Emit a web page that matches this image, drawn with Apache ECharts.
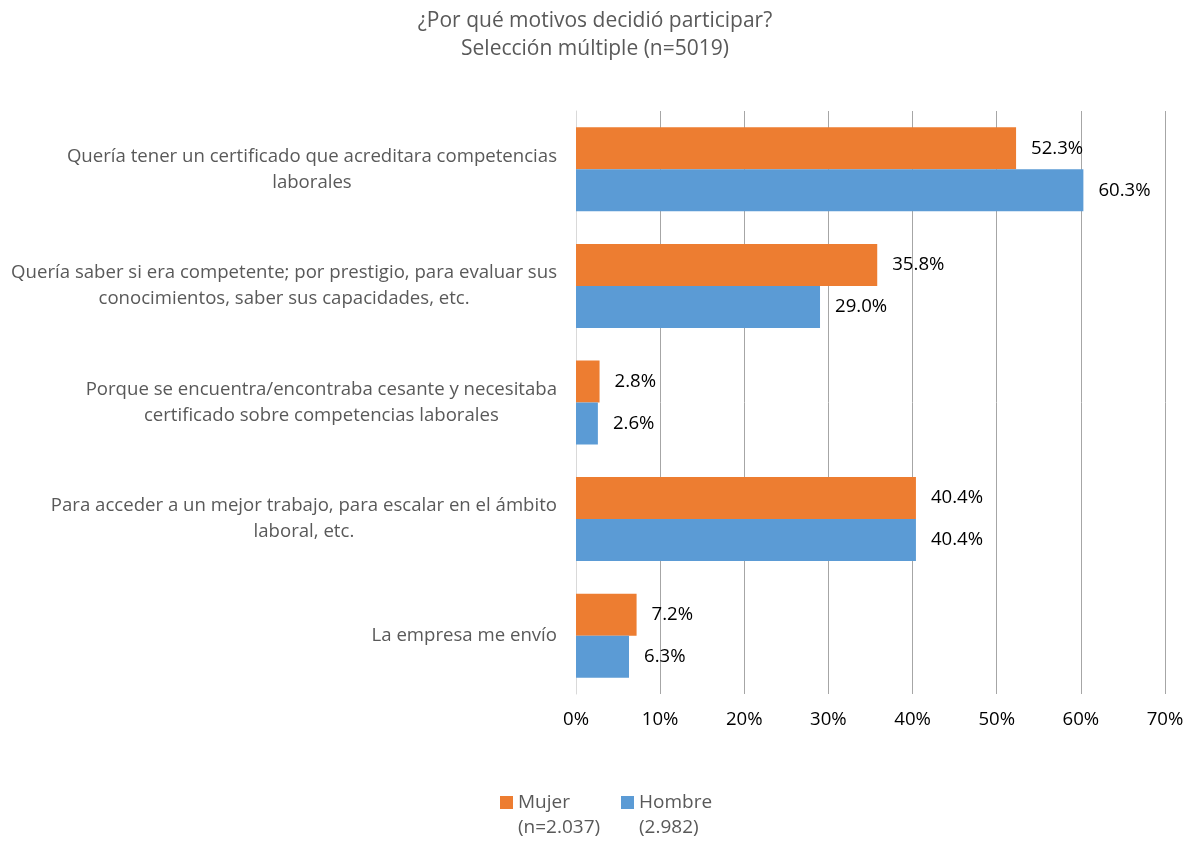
<!DOCTYPE html>
<html>
<head>
<meta charset="utf-8">
<script src="https://cdn.jsdelivr.net/npm/echarts@6/dist/echarts.min.js"></script>
<style>html,body{margin:0;padding:0;background:#fff}#c{width:1190px;height:841px}</style>
</head>
<body>
<div id="c"></div>
<script>
const categories = [
  ["Quería tener un certificado que acreditara competencias", "laborales"],
  ["Quería saber si era competente; por prestigio, para evaluar sus", "conocimientos, saber sus capacidades, etc."],
  ["Porque se encuentra/encontraba cesante y necesitaba", "certificado sobre competencias laborales"],
  ["Para acceder a un mejor trabajo, para escalar en el ámbito", "laboral, etc."],
  ["La empresa me envío"]
];
const mujer = [52.3, 35.8, 2.8, 40.4, 7.2];
const hombre = [60.3, 29.0, 2.6, 40.4, 6.3];
const seriesNames = ["Mujer", "Hombre"];
const seriesSub = ["(n=2.037)", "(2.982)"];
const xTicks = [0, 10, 20, 30, 40, 50, 60, 70];

const FONT = "Open Sans";
const GRAY = "#595959";
const FS = 18.6;
const chart = echarts.init(document.getElementById('c'), null, {renderer: 'canvas'});
chart.setOption({
  animation: false,
  backgroundColor: '#fff',
  textStyle: {fontFamily: FONT},
  title: {
    text: "¿Por qué motivos decidió participar?\nSelección múltiple (n=5019)",
    left: 'center',
    top: 2,
    textStyle: {fontFamily: FONT, fontSize: 21, fontWeight: 'normal', color: GRAY, lineHeight: 28}
  },
  legend: [
    {data: [seriesNames[0]], left: 500, top: 793, padding: 0, itemWidth: 13, itemHeight: 13, icon: 'rect', itemGap: 5,
     textStyle: {fontFamily: FONT, fontSize: 19, color: GRAY}},
    {data: [seriesNames[1]], left: 621, top: 793, padding: 0, itemWidth: 13, itemHeight: 13, icon: 'rect', itemGap: 5,
     textStyle: {fontFamily: FONT, fontSize: 19, color: GRAY}}
  ],
  graphic: [
    {type: 'text', left: 518, top: 818, style: {text: seriesSub[0], font: '19px "Open Sans"', fill: GRAY}},
    {type: 'text', left: 639, top: 818, style: {text: seriesSub[1], font: '19px "Open Sans"', fill: GRAY}}
  ],
  grid: {left: 576, right: 25, top: 111, bottom: 147, containLabel: false},
  xAxis: {
    type: 'value', min: 0, max: 70, interval: 10,
    axisLabel: {formatter: v => xTicks.includes(v) ? v + '%' : '', fontFamily: FONT, fontSize: FS, color: '#000', margin: 16},
    axisLine: {show: false}, axisTick: {show: false},
    splitLine: {lineStyle: {color: '#a6a6a6', width: 1}}
  },
  yAxis: {
    type: 'category', inverse: true,
    data: categories.map(c => c.join('\n')),
    axisLine: {show: true, lineStyle: {color: '#d9d9d9'}},
    axisTick: {show: false},
    axisLabel: {
      margin: 19, align: 'right',
      formatter: v => v.split('\n').map(l => '{c|' + l + '}').join('\n'),
      rich: {c: {align: 'center', fontFamily: FONT, fontSize: FS, color: GRAY, lineHeight: 26}}
    }
  },
  series: [
    {name: seriesNames[0], type: 'bar', data: mujer, barGap: '0%', barCategoryGap: '28%',
     itemStyle: {color: '#ED7D31'},
     label: {show: true, position: 'right', distance: 15, formatter: p => p.value.toFixed(1) + '%', fontFamily: FONT, fontSize: FS, color: '#000'}},
    {name: seriesNames[1], type: 'bar', data: hombre, barGap: '0%', barCategoryGap: '28%',
     itemStyle: {color: '#5B9BD5'},
     label: {show: true, position: 'right', distance: 15, formatter: p => p.value.toFixed(1) + '%', fontFamily: FONT, fontSize: FS, color: '#000'}}
  ]
});
</script>
</body>
</html>
